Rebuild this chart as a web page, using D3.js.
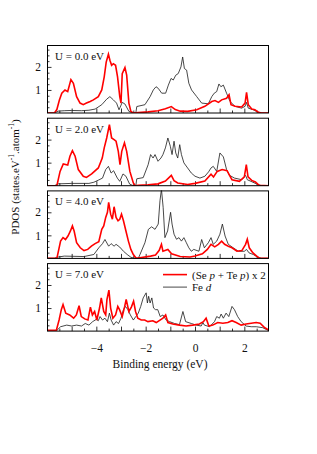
<!DOCTYPE html>
<html>
<head>
<meta charset="utf-8">
<script src="https://cdn.jsdelivr.net/npm/d3@7"></script>
<style>
  body { margin: 0; background: #fff; }
  text { font-family: "Liberation Serif", "Times New Roman", serif; fill: #111; }
</style>
</head>
<body>
<div id="svg-container"></div>
<script>
// PDOS for four Hubbard U values, [energy (eV), states/eV/atom]

let panelLabels = ["U = 0.0 eV", "U = 2.0 eV", "U = 4.0 eV", "U = 7.0 eV"];
let xTickLabels = [-4, -2, 0, 2];
let yTickLabels = [1, 2];

let seTeU0 = [[-6,0],[-5.7,0],[-5.6,0.15],[-5.5,0.55],[-5.4,0.86],[-5.27,1.0],[-5.16,0.93],[-5.03,1.45],[-4.93,1.29],[-4.8,0.71],[-4.66,0.43],[-4.53,0.36],[-4.4,0.43],[-4.25,0.5],[-4.12,0.57],[-3.92,0.71],[-3.78,1.0],[-3.68,1.57],[-3.6,2.21],[-3.51,2.55],[-3.45,2.29],[-3.38,2.07],[-3.31,2.14],[-3.22,2.07],[-3.14,1.57],[-3.05,0.71],[-3.0,0.43],[-2.95,1.71],[-2.84,1.97],[-2.77,1.64],[-2.68,0.43],[-2.6,0.07],[-2.5,0],[-2.3,0.02],[-1.9,0.05],[-1.5,0.1],[-1.2,0.18],[-0.96,0.28],[-0.8,0.15],[-0.6,0.08],[-0.3,0.07],[0.07,0.14],[0.4,0.29],[0.68,0.5],[0.81,0.54],[0.95,0.46],[1.08,0.57],[1.28,0.64],[1.38,0.79],[1.46,0.36],[1.62,0.29],[1.89,0.26],[2.03,0.43],[2.09,0.89],[2.16,0.36],[2.3,0.17],[2.43,0.14],[2.57,0.03],[2.7,0],[3,0]];
let feDU0 = [[-6,0],[-5.7,0],[-5.55,0.08],[-5.3,0.1],[-5.0,0.11],[-4.6,0.1],[-4.3,0.12],[-4.05,0.17],[-3.78,0.36],[-3.58,0.6],[-3.45,0.71],[-3.31,0.57],[-3.18,0.43],[-3.08,0.14],[-2.95,0.46],[-2.84,0.39],[-2.68,0.07],[-2.5,0],[-2.4,0],[-2.36,0.28],[-2.03,0.36],[-1.82,0.71],[-1.69,1.0],[-1.58,1.14],[-1.49,1.07],[-1.35,0.86],[-1.19,0.86],[-1.08,1.21],[-0.97,1.5],[-0.88,1.43],[-0.78,1.64],[-0.68,1.71],[-0.57,2.0],[-0.5,2.43],[-0.43,1.93],[-0.34,1.86],[-0.25,1.29],[-0.14,1.0],[0.07,0.71],[0.27,0.43],[0.54,0.4],[0.68,0.71],[0.78,0.86],[0.88,0.93],[0.97,1.26],[1.05,1.14],[1.15,1.21],[1.28,0.86],[1.42,0.5],[1.62,0.29],[1.89,0.21],[2.03,0.29],[2.09,0.46],[2.16,0.21],[2.36,0.14],[2.57,0.03],[2.7,0],[3,0]];

let seTeU2 = [[-6,0],[-5.6,0],[-5.47,0.62],[-5.34,0.94],[-5.16,0.9],[-5.07,1.28],[-4.97,1.52],[-4.86,1.28],[-4.73,0.7],[-4.53,0.41],[-4.4,0.36],[-4.19,0.51],[-3.92,0.77],[-3.76,1.2],[-3.68,1.64],[-3.58,2.07],[-3.47,2.65],[-3.38,2.07],[-3.28,2.0],[-3.2,1.93],[-3.11,1.49],[-3.04,0.91],[-2.97,1.49],[-2.86,1.86],[-2.77,1.49],[-2.64,0.62],[-2.5,0.12],[-2.43,0],[-2.3,0.02],[-1.9,0.04],[-1.5,0.08],[-1.2,0.2],[-0.96,0.45],[-0.85,0.22],[-0.7,0.12],[-0.3,0.05],[0,0.1],[0.4,0.2],[0.65,0.5],[0.75,0.38],[0.9,0.62],[1.1,0.7],[1.3,0.65],[1.4,0.45],[1.5,0.26],[1.8,0.19],[2.0,0.38],[2.08,0.91],[2.15,0.38],[2.3,0.23],[2.45,0.16],[2.6,0.02],[3,0]];
let feDU2 = [[-6,0],[-5.7,0],[-5.55,0.08],[-5.0,0.1],[-4.3,0.1],[-4.1,0.15],[-3.9,0.25],[-3.75,0.33],[-3.62,0.7],[-3.51,0.84],[-3.4,0.55],[-3.3,0.65],[-3.15,0.33],[-3.05,0.19],[-2.92,0.51],[-2.8,0.41],[-2.65,0.07],[-2.5,0],[-2.4,0],[-2.36,0.3],[-2.1,0.35],[-1.9,0.91],[-1.8,1.35],[-1.7,1.2],[-1.62,1.35],[-1.5,1.06],[-1.38,1.2],[-1.3,1.35],[-1.2,1.64],[-1.1,2.07],[-1.0,1.71],[-0.93,1.35],[-0.85,1.93],[-0.78,1.42],[-0.7,1.2],[-0.62,1.78],[-0.55,1.35],[-0.45,0.99],[-0.3,0.77],[-0.15,0.55],[0,0.41],[0.2,0.33],[0.4,0.41],[0.55,0.6],[0.65,0.77],[0.74,0.84],[0.88,0.62],[1.01,1.42],[1.15,1.25],[1.28,0.7],[1.4,0.45],[1.6,0.33],[1.9,0.26],[2.05,0.45],[2.12,0.26],[2.35,0.15],[2.55,0.05],[2.7,0],[3,0]];

let seTeU4 = [[-6,0],[-5.6,0],[-5.45,0.75],[-5.35,0.9],[-5.25,0.82],[-5.15,0.97],[-5.05,1.19],[-4.97,1.41],[-4.9,1.19],[-4.8,0.68],[-4.65,0.46],[-4.5,0.34],[-4.35,0.39],[-4.2,0.53],[-4.05,0.64],[-3.9,0.72],[-3.78,1.26],[-3.7,1.41],[-3.62,1.78],[-3.55,2.0],[-3.5,2.43],[-3.42,1.92],[-3.35,1.7],[-3.28,2.24],[-3.2,1.78],[-3.12,1.63],[-3.05,1.7],[-2.98,1.92],[-2.9,1.63],[-2.8,1.19],[-2.7,0.75],[-2.6,0.39],[-2.5,0.17],[-2.4,0.03],[-2.3,0.02],[-1.8,0.1],[-1.6,0.15],[-1.45,0.35],[-1.36,0.61],[-1.3,0.31],[-1.1,0.39],[-0.95,0.2],[-0.6,0.08],[-0.2,0.06],[0,0.1],[0.3,0.2],[0.5,0.39],[0.65,0.61],[0.8,0.5],[0.95,0.61],[1.08,0.75],[1.2,0.61],[1.35,0.53],[1.5,0.46],[1.7,0.31],[1.9,0.34],[2.05,0.61],[2.12,0.83],[2.2,0.46],[2.35,0.24],[2.5,0.1],[2.6,0.02],[3,0]];
let feDU4 = [[-6,0],[-5.7,0],[-5.6,0.05],[-5.3,0.1],[-4.5,0.08],[-4.1,0.17],[-3.9,0.46],[-3.75,0.64],[-3.65,0.82],[-3.5,0.53],[-3.4,0.64],[-3.28,0.53],[-3.2,0.61],[-3.05,0.49],[-2.9,0.31],[-2.75,0.17],[-2.6,0.05],[-2.45,0],[-2.3,0],[-2.23,0.17],[-2.03,0.68],[-1.89,1.26],[-1.76,1.37],[-1.62,1.26],[-1.49,1.49],[-1.42,2.5],[-1.36,3.0],[-1.29,2.2],[-1.22,0.9],[-1.11,1.19],[-0.99,2.0],[-0.93,1.49],[-0.85,1.05],[-0.75,0.83],[-0.65,0.9],[-0.55,0.75],[-0.45,0.9],[-0.35,0.68],[-0.25,0.46],[-0.15,0.31],[-0.05,0.39],[0.16,0.31],[0.27,0.82],[0.38,0.46],[0.54,0.68],[0.65,0.9],[0.74,0.61],[0.88,0.75],[1.01,1.05],[1.11,1.49],[1.22,0.97],[1.35,0.61],[1.55,0.46],[1.76,0.31],[2.0,0.31],[2.09,0.39],[2.19,0.24],[2.36,0.17],[2.55,0.05],[2.7,0],[3,0]];

let seTeU7 = [[-6,0.03],[-5.62,0.04],[-5.51,0.48],[-5.42,0.93],[-5.35,1.15],[-5.24,0.78],[-5.08,0.7],[-4.92,0.56],[-4.81,0.7],[-4.7,1.1],[-4.61,0.63],[-4.47,0.53],[-4.34,0.48],[-4.24,1.04],[-4.16,0.7],[-4.07,0.85],[-3.98,0.48],[-3.87,1.0],[-3.8,1.44],[-3.7,0.85],[-3.62,0.7],[-3.57,1.37],[-3.49,1.78],[-3.42,1.0],[-3.33,0.56],[-3.22,0.7],[-3.13,1.07],[-3.06,0.93],[-2.95,0.63],[-2.85,1.07],[-2.79,1.37],[-2.68,0.85],[-2.58,1.04],[-2.49,1.3],[-2.41,0.85],[-2.32,0.56],[-2.18,0.48],[-2.04,0.48],[-1.91,0.41],[-1.71,0.45],[-1.57,0.37],[-1.3,0.56],[-1.19,0.7],[-1.1,0.37],[-0.9,0.31],[-0.63,0.26],[-0.36,0.22],[-0.09,0.26],[0.18,0.31],[0.34,0.41],[0.45,0.56],[0.56,0.22],[0.72,0.26],[0.92,0.37],[1.13,0.34],[1.33,0.37],[1.5,0.45],[1.67,0.37],[1.87,0.26],[2.07,0.31],[2.28,0.34],[2.48,0.37],[2.64,0.34],[2.81,0.16],[2.95,0.07],[3,0.05]];
let feDU7 = [[-6,0],[-5.6,0.03],[-5.45,0.19],[-5.2,0.26],[-5.0,0.22],[-4.8,0.26],[-4.6,0.22],[-4.45,0.33],[-4.3,0.26],[-4.15,0.41],[-4.0,0.51],[-3.92,0.45],[-3.85,0.63],[-3.75,0.48],[-3.65,0.56],[-3.55,0.41],[-3.47,0.78],[-3.4,0.48],[-3.3,0.26],[-3.2,0.41],[-3.1,0.33],[-3.0,0.56],[-2.9,0.93],[-2.82,1.07],[-2.72,0.93],[-2.62,0.7],[-2.5,0.48],[-2.4,0.63],[-2.3,0.78],[-2.2,1.07],[-2.1,1.44],[-1.98,1.66],[-1.93,1.22],[-1.88,1.51],[-1.82,1.22],[-1.75,1.44],[-1.68,1.0],[-1.6,0.93],[-1.51,0.93],[-1.41,0.63],[-1.3,0.7],[-1.17,0.48],[-1.03,0.41],[-0.83,0.33],[-0.63,0.28],[-0.49,0.85],[-0.38,0.41],[-0.15,0.33],[0.05,0.26],[0.25,0.22],[0.32,0.37],[0.38,0.26],[0.59,0.19],[0.79,0.41],[0.88,0.63],[0.99,0.56],[1.06,0.74],[1.15,0.56],[1.26,0.78],[1.37,0.63],[1.5,1.07],[1.6,0.93],[1.73,0.63],[1.87,0.41],[2.07,0.22],[2.28,0.19],[2.48,0.19],[2.74,0.15],[2.95,0.04],[3,0.03]];

let seTeSeries = [seTeU0, seTeU2, seTeU4, seTeU7];
let feDSeries = [feDU0, feDU2, feDU4, feDU7];

let drawChart = function(){
    /* Four stacked PDOS panels sharing the energy axis */
    let colors = ['#ff0000', '#1a1a1a'];
    let svg = d3.select('#svg-container').append('svg')
        .attr('width', 317).attr('height', 454);

    let left = 47, right = 269, top = 45, panelH = 68, step = 72.7;

    let x = d3.scaleLinear().domain([-6, 3]).range([left, right]);
    let y = d3.scaleLinear().domain([0, 2.95]).range([panelH, 0]);

    let line = d3.line()
        .x(d => x(d[0]))
        .y(d => y(d[1]));

    svg.append('defs').append('clipPath').attr('id', 'panel-clip')
      .append('rect')
        .attr('x', left).attr('y', 0)
        .attr('width', right - left).attr('height', panelH);

    panelLabels.forEach(function(label, i){
        let g = svg.append('g')
            .attr('transform', 'translate(0,' + (top + i * step) + ')');

        // minor / major ticks on bottom, pointing in
        let minorX = d3.range(-5.5, 3, 0.5).filter(v => v % 1 !== 0);
        g.append('g').attr('transform', 'translate(0,' + panelH + ')')
            .call(d3.axisBottom(x).tickValues(minorX).tickSize(-2.5).tickFormat(''));
        g.append('g').attr('transform', 'translate(0,' + panelH + ')')
            .call(d3.axisBottom(x).tickValues(d3.range(-5, 3, 1)).tickSize(-4.5).tickFormat(''));
        let minorY = d3.range(0.25, 2.9, 0.25).filter(v => v % 1 !== 0);
        g.append('g').attr('transform', 'translate(' + left + ',0)')
            .call(d3.axisLeft(y).tickValues(minorY).tickSize(-2.5).tickFormat(''));
        g.append('g').attr('transform', 'translate(' + left + ',0)')
            .call(d3.axisLeft(y).tickValues(yTickLabels).tickSize(-4.5).tickPadding(10)
                .tickFormat(d3.format('d')));
        g.selectAll('.domain').remove();
        g.selectAll('.tick line').attr('stroke', '#000').attr('stroke-width', 0.8);
        g.selectAll('.tick text').attr('font-size', 11.5)
            .attr('font-family', '"Liberation Serif", serif').attr('x', -6);

        let plot = g.append('g').attr('clip-path', 'url(#panel-clip)');
        plot.append('path')
            .datum(feDSeries[i])
            .attr('d', line)
            .attr('fill', 'none')
            .attr('stroke', colors[1])
            .attr('stroke-width', 0.8);
        plot.append('path')
            .datum(seTeSeries[i])
            .attr('d', line)
            .attr('fill', 'none')
            .attr('stroke', colors[0])
            .attr('stroke-width', 1.6);

        g.append('rect')
            .attr('x', left + 0.5).attr('y', 0.5)
            .attr('width', right - left - 1).attr('height', panelH - 0.5)
            .attr('fill', 'none').attr('stroke', '#000').attr('stroke-width', 1);

        g.append('text').text(label)
            .attr('x', 55).attr('y', 15)
            .attr('font-size', 11);

        if(i === panelLabels.length - 1){
            g.append('g').attr('transform', 'translate(0,' + panelH + ')')
                .call(d3.axisBottom(x).tickValues(xTickLabels).tickSize(0).tickPadding(13)
                    .tickFormat(d3.format('d')))
                .call(a => a.select('.domain').remove())
                .selectAll('text')
                    .attr('font-size', 11.5)
                    .attr('font-family', '"Liberation Serif", serif');

            // legend
            let legendKeys = ['seTe', 'feD'];
            let legend = g.selectAll('.lineLegend').data(legendKeys)
                .enter().append('g')
                .attr('class', 'lineLegend')
                .attr('transform', (d, k) => 'translate(163,' + (11.5 + k * 12.5) + ')');
            legend.append('line')
                .attr('x1', 0).attr('x2', 24)
                .attr('stroke', (d, k) => colors[k])
                .attr('stroke-width', (d, k) => k === 0 ? 1.6 : 0.8);
            let t0 = legend.filter(d => d === 'seTe').append('text')
                .attr('x', 29).attr('y', 4).attr('font-size', 11);
            t0.append('tspan').text('(Se ');
            t0.append('tspan').text('p').attr('font-style', 'italic');
            t0.append('tspan').text(' + Te ');
            t0.append('tspan').text('p').attr('font-style', 'italic');
            t0.append('tspan').text(') x 2');
            let t1 = legend.filter(d => d === 'feD').append('text')
                .attr('x', 29).attr('y', 4).attr('font-size', 11);
            t1.append('tspan').text('Fe ');
            t1.append('tspan').text('d').attr('font-style', 'italic');
        }
    });

    // axis titles
    svg.append('text')
        .text('Binding energy (eV)')
        .attr('x', 160).attr('y', 368)
        .attr('text-anchor', 'middle')
        .attr('font-size', 11.5);

    let yTitle = svg.append('text')
        .attr('transform', 'translate(19,177) rotate(-90)')
        .attr('text-anchor', 'middle')
        .attr('font-size', 11);
    yTitle.append('tspan').text('PDOS (states.eV');
    yTitle.append('tspan').text('-1').attr('font-size', 7.5).attr('dy', -5);
    yTitle.append('tspan').text('.atom').attr('dy', 5);
    yTitle.append('tspan').text('-1').attr('font-size', 7.5).attr('dy', -5);
    yTitle.append('tspan').text(')').attr('dy', 5);
};

drawChart();
</script>
</body>
</html>
